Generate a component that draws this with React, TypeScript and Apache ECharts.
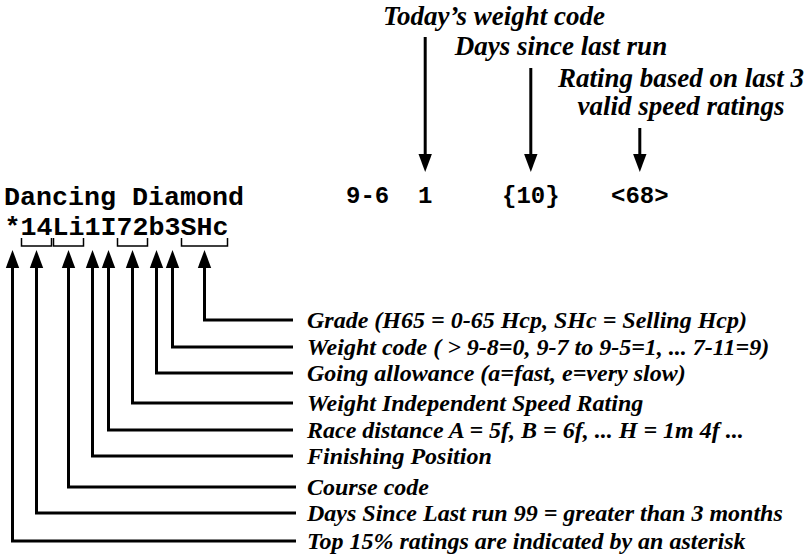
import React, { useEffect, useRef } from "react";
import * as echarts from "echarts";

// ---- content ----
const horseName = "Dancing Diamond";
const formCode = "*14Li1I72b3SHc";
const raceTokens = ["9-6", "1", "{10}", "<68>"];
const topLabels = ["Today’s weight code", "Days since last run", "Rating based on last 3\nvalid speed ratings"];
const topTargets = [1, 2, 3]; // index into raceTokens
const codeLabels = [
  "Grade (H65 = 0-65 Hcp, SHc = Selling Hcp)",
  "Weight code ( > 9-8=0, 9-7 to 9-5=1, ... 7-11=9)",
  "Going allowance (a=fast, e=very slow)",
  "Weight Independent Speed Rating",
  "Race distance A = 5f, B = 6f, ... H = 1m 4f ...",
  "Finishing Position",
  "Course code",
  "Days Since Last run 99 = greater than 3 months",
  "Top 15% ratings are indicated by an asterisk",
];
// which characters of formCode each label explains (start, end index)
const codeSpans = [[11, 13], [10, 10], [9, 9], [7, 8], [6, 6], [5, 5], [3, 4], [1, 2], [0, 0]];

// ---- layout ----
const MONO = "'Courier New', 'Liberation Mono', monospace";
const SERIF = "'Times New Roman', 'Liberation Serif', serif";
const monoSize = 26.67;
const pitch = 16;
const codeX0 = 4.5;
const nameY = 198;
const codeY = 228;
const tokenSize = 24;
const tokenAdv = 14.4;
const tokenX = [346, 418, 502, 611];
const tokenY = 196.6;
const labelSize = 24;
const topLabelSize = 27;
const labelX = 307;
const labelLineY = [320, 347, 373, 403, 430, 456, 487, 513, 541];
const labelLineEnd = [293, 293, 293, 293, 293, 293, 296, 296, 296];
const topLabelX = [494, 561, 681];
const topLabelY = [[15.9], [45.9], [77.9, 105.9]];
const topShaftStart = [37, 68, 128];
const topTipY = 172;
const bottomTipY = 250;
const headLen = 18;
const headHalf = 6.7;

export default function App() {
  const ref = useRef<HTMLDivElement>(null);
  useEffect(() => {
    if (!ref.current) return;
    const chart = echarts.init(ref.current, null, { renderer: "svg" });
    const g: any[] = [];
    const black = "#000";

    // name and form lines
    g.push({
      type: "text", x: 4, y: nameY,
      style: { text: horseName, font: `bold ${monoSize}px ${MONO}`, fill: black, align: "left", verticalAlign: "middle" },
    });
    g.push({
      type: "text", x: codeX0, y: codeY,
      style: { text: formCode, font: `bold ${monoSize}px ${MONO}`, fill: black, align: "left", verticalAlign: "middle" },
    });
    raceTokens.forEach((t, i) => {
      g.push({
        type: "text", x: tokenX[i], y: tokenY,
        style: { text: t, font: `bold ${tokenSize}px ${MONO}`, fill: black, align: "left", verticalAlign: "middle" },
      });
    });

    // top labels + down arrows
    topLabels.forEach((lab, i) => {
      lab.split("\n").forEach((line, j) => {
        g.push({
          type: "text", x: topLabelX[i], y: topLabelY[i][j],
          style: { text: line, font: `italic bold ${topLabelSize}px ${SERIF}`, fill: black, align: "center", verticalAlign: "middle" },
        });
      });
      const tIdx = topTargets[i];
      const cx = tokenX[tIdx] + (raceTokens[tIdx].length * tokenAdv) / 2;
      g.push({
        type: "line",
        shape: { x1: cx, y1: topShaftStart[i], x2: cx, y2: topTipY - headLen + 1 },
        style: { stroke: black, lineWidth: 3 },
      });
      g.push({
        type: "polygon",
        shape: { points: [[cx, topTipY], [cx - headHalf, topTipY - headLen], [cx + headHalf, topTipY - headLen]] },
        style: { fill: black },
      });
    });

    // bottom labels, brackets, connectors, up arrows
    codeLabels.forEach((lab, i) => {
      const [s, e] = codeSpans[i];
      const cx = codeX0 + (pitch * (s + e + 1)) / 2;
      const ly = labelLineY[i];
      if (e > s) {
        const x1 = codeX0 + pitch * s + 1;
        const x2 = codeX0 + pitch * (e + 1) - 1;
        g.push({
          type: "polyline",
          shape: { points: [[x1, 238], [x1, 246], [x2, 246], [x2, 238]] },
          style: { stroke: black, lineWidth: 1.5, fill: null },
        });
      }
      g.push({
        type: "polygon",
        shape: { points: [[cx, bottomTipY], [cx - headHalf, bottomTipY + headLen], [cx + headHalf, bottomTipY + headLen]] },
        style: { fill: black },
      });
      g.push({
        type: "polyline",
        shape: { points: [[cx, bottomTipY + headLen - 1], [cx, ly], [labelLineEnd[i], ly]] },
        style: { stroke: black, lineWidth: 3, fill: null, lineJoin: "miter", lineCap: "butt" },
      });
      g.push({
        type: "text", x: labelX, y: ly,
        style: { text: lab, font: `italic bold ${labelSize}px ${SERIF}`, fill: black, align: "left", verticalAlign: "middle" },
      });
    });

    chart.setOption({
      animation: false,
      backgroundColor: "#fff",
      graphic: { elements: g },
    });
    return () => chart.dispose();
  }, []);
  return <div ref={ref} style={{ position: "fixed", left: 0, top: 0, width: 806, height: 555 }} />;
}
